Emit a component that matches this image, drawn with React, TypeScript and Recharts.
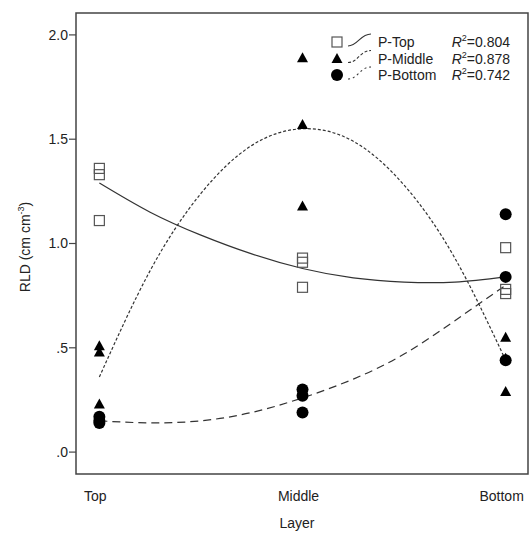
import { ComposedChart, Line, Scatter, XAxis, YAxis, ReferenceArea } from "recharts";

const layers = ["Top", "Middle", "Bottom"];
const yTicks = [0, 0.5, 1, 1.5, 2];

// observed values per layer (Top, Middle, Bottom)
const topValues = [[1.36, 1.33, 1.11], [0.93, 0.91, 0.79], [0.98, 0.78, 0.76]];
const middleValues = [[0.51, 0.48, 0.23], [1.89, 1.57, 1.18], [0.55, 0.45, 0.29]];
const bottomValues = [[0.17, 0.15, 0.14], [0.3, 0.27, 0.19], [1.14, 0.84, 0.44]];

// fitted curves
const fitX = [1, 1.25, 1.5, 1.75, 2, 2.25, 2.5, 2.75, 3];
const topFit = [1.29, 1.15, 1.04, 0.95, 0.88, 0.835, 0.815, 0.815, 0.84];
const middleFit = [0.36, 0.87, 1.24, 1.47, 1.55, 1.49, 1.28, 0.93, 0.44];
const bottomFit = [0.15, 0.14, 0.15, 0.19, 0.26, 0.35, 0.47, 0.63, 0.8];

const seriesNames = ["P-Top", "P-Middle", "P-Bottom"];
const r2Values = ["0.804", "0.878", "0.742"];

const FONT = "'Liberation Sans', Arial, sans-serif";
const INK = "#222";
const LINE = "#333";
const X_DOMAIN = [0.885, 3.11];
const Y_DOMAIN = [-0.105, 2.105];

const toPoints = (values: number[][]) =>
  values.flatMap((group, i) => group.map((y) => ({ x: i + 1, y })));
const toCurve = (ys: number[]) => fitX.map((x, i) => ({ x, y: ys[i] }));

const SquareDot = (p: any) => (
  <rect x={p.cx - 5} y={p.cy - 5} width={10} height={10} fill="none" stroke="#555" strokeWidth={1.2} />
);
const TriangleDot = (p: any) => (
  <path d={`M${p.cx},${p.cy - 5.5} L${p.cx + 5.5},${p.cy + 4.5} L${p.cx - 5.5},${p.cy + 4.5} Z`} fill="#000" />
);
const CircleDot = (p: any) => <circle cx={p.cx} cy={p.cy} r={6} fill="#000" />;

const dashes = [undefined, "3 2", "8 5"];

function Overlay() {
  const baselines = [47, 63.5, 80];
  return (
    <svg
      width={532}
      height={543}
      style={{ position: "absolute", left: 0, top: 0, pointerEvents: "none" }}
      fontFamily={FONT}
    >
      {baselines.map((b, i) => {
        const c = b - 5;
        return (
          <g key={i}>
            {i === 0 && <rect x={332} y={c - 5} width={10} height={10} fill="none" stroke="#555" strokeWidth={1.2} />}
            {i === 1 && <path d={`M337,${c - 5.5} L342.5,${c + 4.5} L331.5,${c + 4.5} Z`} fill="#000" />}
            {i === 2 && <circle cx={337} cy={c} r={6} fill="#000" />}
            <path
              d={`M348,${c + 4} C358,${c + 4} 360,${c - 8} 371,${c - 8}`}
              fill="none"
              stroke={LINE}
              strokeWidth={1.1}
              strokeDasharray={i === 0 ? undefined : i === 1 ? "3 2" : "2 3"}
            />
            <text x={378} y={b} fontSize={14} fill={INK}>
              {seriesNames[i]}
            </text>
            <text x={510} y={b} fontSize={14} fill={INK} textAnchor="end">
              <tspan fontStyle="italic">R</tspan>
              <tspan fontSize={9} dy={-6}>2</tspan>
              <tspan dy={6}>={r2Values[i]}</tspan>
            </text>
          </g>
        );
      })}
      <text x={297} y={528} fontSize={14} fill={INK} textAnchor="middle">
        Layer
      </text>
      <text transform="translate(30,247) rotate(-90)" fontSize={14} fill={INK} textAnchor="middle">
        RLD (cm cm<tspan fontSize={9} dy={-6}>-3</tspan>
        <tspan dy={6}>)</tspan>
      </text>
    </svg>
  );
}

export default function App() {
  return (
    <div style={{ position: "relative", width: 532, height: 543, background: "#fff" }}>
      <style>{"body{margin:0}"}</style>
      <ComposedChart width={532} height={543} margin={{ top: 13, right: 4, bottom: 0, left: 0 }}>
        <XAxis
          type="number"
          dataKey="x"
          domain={X_DOMAIN}
          ticks={[1, 2, 3]}
          tickFormatter={(v: number) => layers[v - 1]}
          tickSize={0}
          tickMargin={17}
          axisLine={false}
          height={69}
          tick={{ fontSize: 14, fill: INK, fontFamily: FONT, dx: -4 }}
          allowDataOverflow
        />
        <YAxis
          type="number"
          dataKey="y"
          domain={Y_DOMAIN}
          ticks={yTicks}
          tickFormatter={(v: number) => v.toFixed(1).replace(/^0/, "")}
          tickSize={7}
          tickMargin={1}
          width={76}
          axisLine={false}
          tickLine={{ stroke: "#444", strokeWidth: 1.2 }}
          tick={{ fontSize: 14, fill: INK, fontFamily: FONT }}
          allowDataOverflow
        />
        <ReferenceArea
          x1={X_DOMAIN[0]}
          x2={X_DOMAIN[1]}
          y1={Y_DOMAIN[0]}
          y2={Y_DOMAIN[1]}
          fill="none"
          stroke="#444"
          strokeWidth={1.5}
        />
        {[topFit, middleFit, bottomFit].map((fit, i) => (
          <Line
            key={seriesNames[i]}
            data={toCurve(fit)}
            dataKey="y"
            type="natural"
            stroke={LINE}
            strokeWidth={1.2}
            strokeDasharray={dashes[i]}
            dot={false}
            activeDot={false}
            isAnimationActive={false}
          />
        ))}
        <Scatter data={toPoints(topValues)} dataKey="y" shape={SquareDot} isAnimationActive={false} />
        <Scatter data={toPoints(middleValues)} dataKey="y" shape={TriangleDot} isAnimationActive={false} />
        <Scatter data={toPoints(bottomValues)} dataKey="y" shape={CircleDot} isAnimationActive={false} />
      </ComposedChart>
      <Overlay />
    </div>
  );
}
